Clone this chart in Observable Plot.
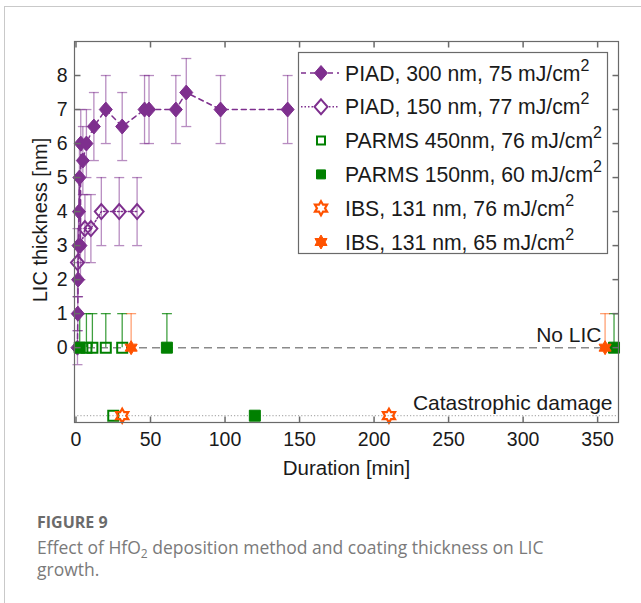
<!DOCTYPE html>
<html><head><meta charset="utf-8">
<script src="https://cdn.jsdelivr.net/npm/d3@7"></script>
<script src="https://cdn.jsdelivr.net/npm/@observablehq/plot@0.6"></script>
<style>
body{margin:0;background:#fff;}
#card{position:absolute;left:4px;top:6px;width:700px;height:700px;border-left:1.5px solid #c9c9c9;border-top:1.5px solid #c9c9c9;}
#chart{position:absolute;left:0;top:0;}
#over{position:absolute;left:0;top:0;}
</style></head>
<body>
<div id="card"></div>
<div id="chart"></div>
<svg id="over" width="641" height="603"></svg>
<script>
// ---- data ----
const piad300Time  = [1, 1.2, 1.4, 1.7, 2, 2.3, 3, 3.2, 4.6, 7, 12, 20, 31, 46, 49, 67, 74, 97, 142];
const piad300Thick = [0, 1, 2, 3, 4, 5, 3, 6, 5.5, 6, 6.5, 7, 6.5, 7, 7, 7, 7.5, 7, 7];
const piad300Err   = [0.5, 0.5, 0.5, 1, 1, 1, 1, 1, 1, 1, 1, 1, 1, 1, 1, 1, 1, 1, 1];

const piad150Time  = [1, 6, 10, 17, 29, 41];
const piad150Thick = [2.5, 3.5, 3.5, 4, 4, 4];
const piad150Err   = [1, 1, 1, 1, 1, 1];

const parms450Time  = [7, 11, 20, 31, 25];
const parms450Thick = [0, 0, 0, 0, -2];
const parms450ErrUp = [1, 1, 1, 1, 0];

const parms150Time  = [2.5, 61, 361, 120];
const parms150Thick = [0, 0, 0, -2];
const parms150ErrUp = [1, 1, 1, 0];

const ibs76Time  = [31, 210];
const ibs76Thick = [-2, -2];
const ibs76ErrUp = [0, 0];

const ibs65Time  = [37, 355];
const ibs65Thick = [0, 0];
const ibs65ErrUp = [1, 1];

const xTicks = [0, 50, 100, 150, 200, 250, 300, 350];
const yTicks = [0, 1, 2, 3, 4, 5, 6, 7, 8];
const xDomain = [-1, 364];
const yDomain = [-2.2, 9];

const legendLabels = [
  "PIAD, 300 nm, 75 mJ/cm", "PIAD, 150 nm, 77 mJ/cm",
  "PARMS 450nm, 76 mJ/cm", "PARMS 150nm, 60 mJ/cm",
  "IBS, 131 nm, 76 mJ/cm", "IBS, 131 nm, 65 mJ/cm"
];
const noLicLabel = "No LIC";
const catLabel = "Catastrophic damage";

// ---- colours ----
const purple = "#7E2F8E", green = "#008000", orange = "#FF5200";

// ---- symbols ----
const R = s => Math.sqrt(s / Math.PI);
const diamondSym = {draw(c, s){const r=R(s); c.moveTo(0,-r*1.15); c.lineTo(r,0); c.lineTo(0,r*1.15); c.lineTo(-r,0); c.closePath();}};
const squareSym = {draw(c, s){const r=R(s); c.rect(-r,-r,2*r,2*r);}};
const hexSym = {draw(c, s){const r=R(s), ri=r/Math.sqrt(3);
  for(let i=0;i<12;i++){const a=Math.PI/6*i-Math.PI/2, rr=i%2?ri:r, x=rr*Math.cos(a), y=rr*Math.sin(a); i?c.lineTo(x,y):c.moveTo(x,y);} c.closePath();}};
const hLine = {draw(c, s){const r=R(s); c.moveTo(-r,0); c.lineTo(r,0);}};
const vLine = {draw(c, s){const r=R(s); c.moveTo(0,-r); c.lineTo(0,r);}};

const rows = (t, v, up, lo) => t.map((d,i)=>({t:d, v:v[i], up:up[i], lo:lo ? lo[i] : 0}));
const p300 = rows(piad300Time, piad300Thick, piad300Err, piad300Err);
const p150 = rows(piad150Time, piad150Thick, piad150Err, piad150Err);
const pa450 = rows(parms450Time, parms450Thick, parms450ErrUp);
const pa150 = rows(parms150Time, parms150Thick, parms150ErrUp);
const i76 = rows(ibs76Time, ibs76Thick, ibs76ErrUp);
const i65 = rows(ibs65Time, ibs65Thick, ibs65ErrUp);

function errMarks(data, color, op){
  const withUp = data.filter(d=>d.up>0), withLo = data.filter(d=>d.lo>0);
  return [
    Plot.ruleX(withUp, {x:"t", y1:d=>d.v-d.lo, y2:d=>d.v+d.up, stroke:color, strokeOpacity:op, strokeWidth:1.3}),
    Plot.dot(withUp, {x:"t", y:d=>d.v+d.up, symbol:hLine, r:5, stroke:color, strokeOpacity:op, strokeWidth:1.3}),
    Plot.dot(withLo, {x:"t", y:d=>d.v-d.lo, symbol:hLine, r:5, stroke:color, strokeOpacity:op, strokeWidth:1.3})
  ];
}

const fs = 19.5;
const plot = Plot.plot({
  width: 641, height: 490,
  marginLeft: 74, marginRight: 23, marginTop: 41, marginBottom: 68,
  x: {domain: xDomain},
  y: {domain: yDomain},
  style: {fontFamily: "'Liberation Sans', Arial, sans-serif", color: "#1a1a1a", background: "transparent", overflow: "visible"},
  marks: [
    Plot.ruleY([0], {stroke:"#8a8a8a", strokeWidth:1.5, strokeDasharray:"8,5"}),
    Plot.ruleY([-2], {stroke:"#b0b0b0", strokeWidth:1.2, strokeDasharray:"1.2,2"}),
    ...errMarks(p300, purple, 0.55),
    ...errMarks(p150, purple, 0.55),
    ...errMarks(pa450, green, 0.75),
    ...errMarks(pa150, green, 0.75),
    ...errMarks(i65, orange, 0.55),
    Plot.line(p300, {x:"t", y:"v", stroke:purple, strokeWidth:1.5, strokeDasharray:"5,4"}),
    Plot.line(p150, {x:"t", y:"v", stroke:purple, strokeWidth:1.5, strokeDasharray:"1.5,2"}),
    Plot.dot(p300, {x:"t", y:"v", symbol:diamondSym, r:6.5, fill:purple, stroke:purple, strokeWidth:1}),
    Plot.dot(p150, {x:"t", y:"v", symbol:diamondSym, r:6.5, fill:"none", stroke:purple, strokeWidth:2}),
    Plot.dot(pa450, {x:"t", y:"v", symbol:squareSym, r:5, fill:"none", stroke:green, strokeWidth:2}),
    Plot.dot(pa150, {x:"t", y:"v", symbol:squareSym, r:5.5, fill:green, stroke:green, strokeWidth:1}),
    Plot.dot(i76, {x:"t", y:"v", symbol:hexSym, r:7, fill:"none", stroke:orange, strokeWidth:2.2}),
    Plot.dot(i65, {x:"t", y:"v", symbol:hexSym, r:7, fill:orange, stroke:orange, strokeWidth:1}),
    Plot.text([{label:noLicLabel, y:0}], {y:"y", text:"label", frameAnchor:"right", textAnchor:"end", lineAnchor:"bottom", dx:-17, dy:-6, fontSize:21, fill:"#1a1a1a"}),
    Plot.text([{label:catLabel, y:-2}], {y:"y", text:"label", frameAnchor:"right", textAnchor:"end", lineAnchor:"bottom", dx:-6, dy:-6, fontSize:21, fill:"#1a1a1a"}),
    Plot.frame({stroke:"#6a6a6a", strokeWidth:1.2}),
    Plot.dot(xTicks, {x:d=>d, frameAnchor:"bottom", dy:-3, symbol:vLine, r:3, stroke:"#6a6a6a"}),
    Plot.dot(xTicks, {x:d=>d, frameAnchor:"top", dy:3, symbol:vLine, r:3, stroke:"#6a6a6a"}),
    Plot.dot(yTicks, {y:d=>d, frameAnchor:"left", dx:3, symbol:hLine, r:3, stroke:"#6a6a6a"}),
    Plot.dot(yTicks, {y:d=>d, frameAnchor:"right", dx:-3, symbol:hLine, r:3, stroke:"#6a6a6a"}),
    Plot.axisX(xTicks, {tickSize:0, tickPadding:10, fontSize:fs, label:null}),
    Plot.axisY(yTicks, {tickSize:0, tickPadding:7, fontSize:fs, label:null}),
    Plot.text(["Duration [min]"], {text:d=>d, frameAnchor:"bottom", lineAnchor:"middle", textAnchor:"middle", dy:46, fontSize:20.5}),
    Plot.text(["LIC thickness [nm]"], {text:d=>d, frameAnchor:"left", textAnchor:"middle", lineAnchor:"middle", dx:-34, dy:-12, rotate:-90, fontSize:20})
  ]
});
document.getElementById("chart").appendChild(plot);

// ---- legend ----
const svg = d3.select("#over");
const lg = svg.append("g").style("font-family","'Liberation Sans', Arial, sans-serif");
lg.append("rect").attr("x",298.5).attr("y",52.5).attr("width",309).attr("height",201)
  .attr("fill","white").attr("stroke","#6a6a6a").attr("stroke-width",1.2);
const legSpec = [
  {sym:diamondSym, r:6.5, fill:purple, stroke:purple, sw:1, dash:"5,4", color:purple},
  {sym:diamondSym, r:6.5, fill:"white", stroke:purple, sw:2, dash:"1.5,2", color:purple},
  {sym:squareSym, r:4, fill:"white", stroke:green, sw:2},
  {sym:squareSym, r:4.5, fill:green, stroke:green, sw:1},
  {sym:hexSym, r:7, fill:"white", stroke:orange, sw:2.2},
  {sym:hexSym, r:7, fill:orange, stroke:orange, sw:1}
];
legSpec.forEach((s,i)=>{
  const y = 73 + i*33.8;
  if (s.dash) lg.append("line").attr("x1",301).attr("x2",339).attr("y1",y).attr("y2",y)
    .attr("stroke",s.color).attr("stroke-width",1.5).attr("stroke-dasharray",s.dash);
  lg.append("path").attr("transform",`translate(321,${y})`)
    .attr("d", d3.symbol(s.sym, s.r*s.r*Math.PI)())
    .attr("fill",s.fill).attr("stroke",s.stroke).attr("stroke-width",s.sw);
  const t = lg.append("text").attr("x",345).attr("y",y+7.5).attr("font-size",21.2).attr("fill","#1a1a1a");
  t.append("tspan").text(legendLabels[i]);
  t.append("tspan").attr("dy",-10).attr("font-size",16).text("2");
});

// ---- caption ----
const cap = svg.append("g").style("font-family","'Open Sans', sans-serif");
cap.append("text").attr("x",37).attr("y",528).attr("font-size",16).attr("font-weight",700).attr("fill","#6b6b6b").text("FIGURE 9");
const l1 = cap.append("text").attr("x",37).attr("y",554).attr("font-size",17.5).attr("fill","#7a7a7a");
l1.append("tspan").text("Effect of HfO");
l1.append("tspan").attr("dy",4).attr("font-size",12).text("2");
l1.append("tspan").attr("dy",-4).text(" deposition method and coating thickness on LIC");
cap.append("text").attr("x",37).attr("y",576).attr("font-size",17.5).attr("fill","#7a7a7a").text("growth.");
</script>
</body></html>
